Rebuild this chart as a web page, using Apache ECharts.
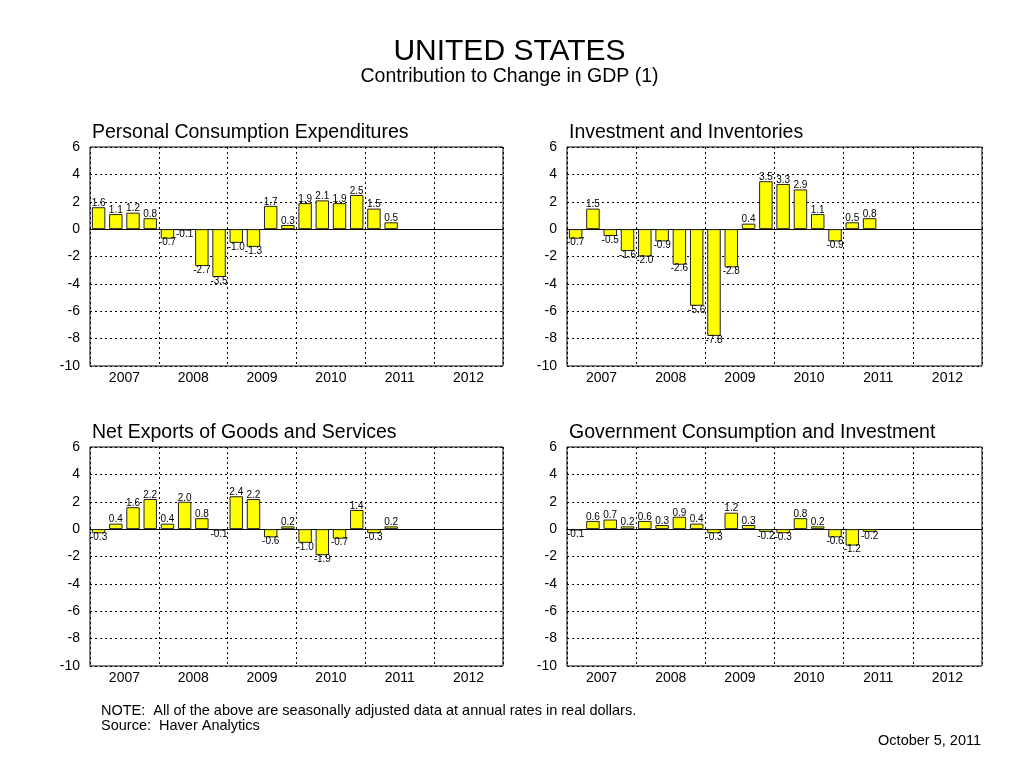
<!DOCTYPE html>
<html>
<head>
<meta charset="utf-8">
<script src="https://cdn.jsdelivr.net/npm/echarts@6/dist/echarts.min.js"></script>
<style>
html,body{margin:0;padding:0;background:#fff;}
#c{width:1019px;height:781px;}
</style>
</head>
<body>
<div id="c"></div>
<script>
const years = ['2007','2008','2009','2010','2011','2012'];
const quarters = [];
years.forEach(y => { for (let q = 1; q <= 4; q++) quarters.push(y + 'Q' + q); });

const panelTitles = ['Personal Consumption Expenditures', 'Investment and Inventories',
  'Net Exports of Goods and Services', 'Government Consumption and Investment'];

const pce = [1.6,1.1,1.2,0.8,-0.7,-0.1,-2.7,-3.5,-1.0,-1.3,1.7,0.3,1.9,2.1,1.9,2.5,1.5,0.5];
const investment = [-0.7,1.5,-0.5,-1.6,-2.0,-0.9,-2.6,-5.6,-7.8,-2.8,0.4,3.5,3.3,2.9,1.1,-0.9,0.5,0.8];
const netExports = [-0.3,0.4,1.6,2.2,0.4,2.0,0.8,-0.1,2.4,2.2,-0.6,0.2,-1.0,-1.9,-0.7,1.4,-0.3,0.2];
const government = [-0.1,0.6,0.7,0.2,0.6,0.3,0.9,0.4,-0.3,1.2,0.3,-0.2,-0.3,0.8,0.2,-0.6,-1.2,-0.2];

const seriesData = [pce, investment, netExports, government];
const yTicks = { min: -10, max: 6, interval: 2 };

const FONT = 'Liberation Sans, Arial, sans-serif';
const grids = [
  {left: 90, top: 147, width: 413, height: 219},
  {left: 567, top: 147, width: 415, height: 219},
  {left: 90, top: 447, width: 413, height: 219},
  {left: 567, top: 447, width: 415, height: 219}
];

const dotted = {color: '#000', width: 1, type: [2, 3]};
const ts = (size, extra) => Object.assign({fontSize: size, fontWeight: 'normal', color: '#000', fontFamily: FONT}, extra || {});

const option = {
  backgroundColor: '#fff',
  animation: false,
  textStyle: {fontFamily: FONT},
  title: [
    {text: 'UNITED STATES', left: 'center', top: 37, padding: 0, textStyle: ts(30)},
    {text: 'Contribution to Change in GDP (1)', left: 'center', top: 67, padding: 0, textStyle: ts(19.5)}
  ].concat(panelTitles.map((t, i) => ({
    text: t, left: grids[i].left + 2, top: grids[i].top - 24, padding: 0,
    textStyle: ts(19.5)
  }))).concat([
    {text: 'NOTE:  All of the above are seasonally adjusted data at annual rates in real dollars.\nSource:  Haver Analytics',
     left: 101, top: 703, padding: 0, textStyle: ts(14.5, {lineHeight: 15})},
    {text: 'October 5, 2011', right: 38, top: 733, padding: 0, textStyle: ts(14.5)}
  ]),
  grid: grids.map(g => Object.assign({show: true, borderColor: '#000', borderWidth: 1, backgroundColor: 'transparent'}, g)),
  xAxis: [],
  yAxis: [],
  series: []
};

grids.forEach((g, i) => {
  option.xAxis.push({
    type: 'category', gridIndex: i, data: quarters, position: 'bottom',
    axisLine: {show: true, onZero: true, lineStyle: {color: '#000', width: 1}},
    axisTick: {show: false}, axisLabel: {show: false}, splitLine: {show: false}
  });
  option.xAxis.push({
    type: 'category', gridIndex: i, data: years, position: 'bottom',
    axisLine: {show: false}, axisTick: {show: false},
    axisLabel: {color: '#000', fontSize: 14, margin: 5, fontFamily: FONT},
    splitLine: {show: true, interval: 0, lineStyle: dotted}
  });
  option.yAxis.push({
    type: 'value', gridIndex: i, min: yTicks.min, max: yTicks.max, interval: yTicks.interval,
    axisLine: {show: false}, axisTick: {show: false},
    axisLabel: {color: '#000', fontSize: 14, margin: 10, fontFamily: FONT},
    splitLine: {show: true, lineStyle: dotted}
  });
  option.series.push({
    type: 'bar', xAxisIndex: i * 2, yAxisIndex: i,
    barCategoryGap: '22%',
    itemStyle: {color: '#ffff00', borderColor: '#222', borderWidth: 1},
    data: seriesData[i].map(v => ({
      value: v,
      label: {show: true, position: v >= 0 ? 'top' : 'bottom', distance: -1,
        formatter: p => p.value.toFixed(1), fontSize: 10, color: '#000', fontFamily: FONT}
    }))
  });
});

const chart = echarts.init(document.getElementById('c'));
chart.setOption(option);
</script>
</body>
</html>
